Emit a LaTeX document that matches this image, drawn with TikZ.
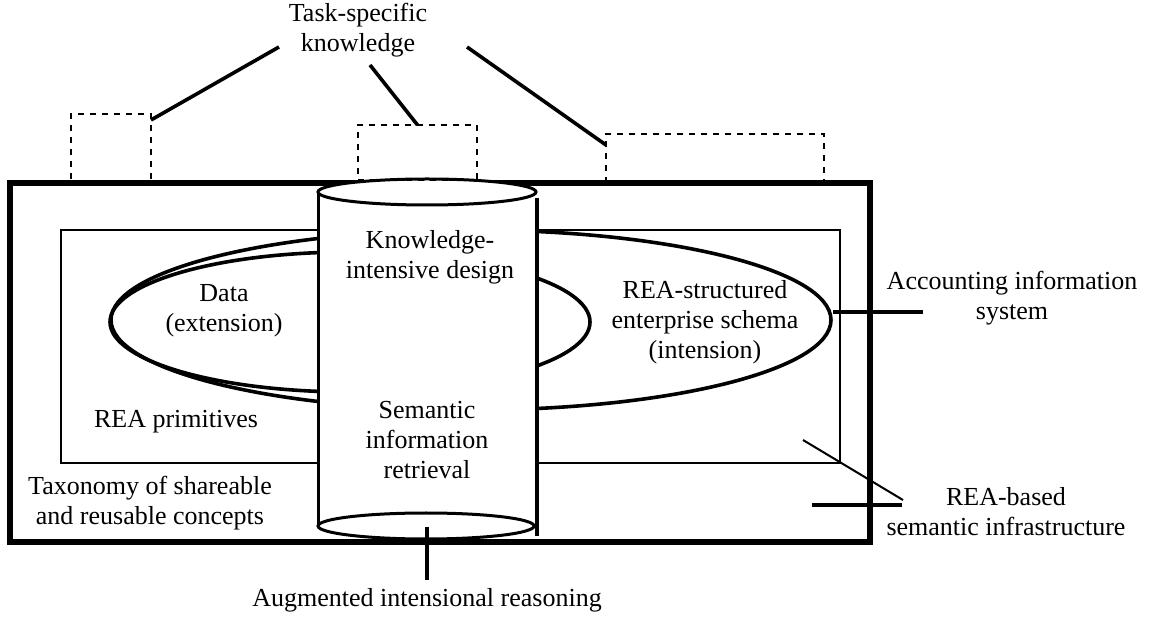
\documentclass[tikz,border=0pt]{standalone}
\usepackage{fontspec}
\setmainfont{Liberation Serif}
\tikzset{
  lbl/.style={font=\fontsize{13}{15}\selectfont, align=center, inner sep=0pt},
  taskbox/.style={draw, dashed, line width=0.7pt, inner sep=0pt, outer sep=0pt},
  lead/.style={line width=1.8pt},
  thinlead/.style={line width=1pt},
  rim/.style={line width=1.8pt},
}
\begin{document}
\begin{tikzpicture}[x=0.5pt,y=-0.5pt]
      \useasboundingbox (0,0) rectangle (1151,619);

      \node[taskbox, minimum width=40pt, minimum height=34.5pt] (lbox) at (111,148.5) {};
      \node[taskbox, minimum width=109pt, minimum height=24.5pt] (rbox) at (715,158.5) {};

      \draw[line width=2.6pt] (10,183) rectangle (870,542);
      \draw[line width=1.3pt] (61,230) rectangle (840,463);

      \draw[rim] (471,320) ellipse [x radius=180pt, y radius=45pt];
      \draw[rim] (350,322) ellipse [x radius=120pt, y radius=35pt];

      % cylinder
      \fill[white] (318,192) rectangle (536,526);
      \draw[line width=1.5pt] (318,192) -- (318,526);
      \draw[line width=2.2pt] (537,198) -- (537,536);
      \draw[line width=1.5pt] (426,526) ellipse [x radius=54pt, y radius=6.5pt];
      \draw[line width=1.5pt, fill=white] (427,192) ellipse [x radius=54.5pt, y radius=6.5pt];

      \node[taskbox, minimum width=59.5pt, minimum height=27.5pt] (mbox) at (417.5,152.5) {};

      \node[lbl] (task) at (358,30) {Task-specific\\knowledge};
      \node[lbl] (data) at (224,311) {Data\\(extension)};
      \node[lbl] (schema) at (705,322) {REA-structured\\enterprise schema\\(intension)};
      \node[lbl] (design) at (430,257) {Knowledge-\\intensive design};
      \node[lbl] (retr) at (427,440) {Semantic\\information\\retrieval};
      \node[lbl] (prim) at (176,422) {REA primitives};
      \node[lbl] (tax) at (150,503) {Taxonomy of shareable\\and reusable concepts};
      \node[lbl] (ais) at (1012,298) {Accounting information\\system};
      \node[lbl] (infra) at (1006,512) {REA-based\\semantic infrastructure};
      \node[lbl] (reason) at (427,600) {Augmented intensional reasoning};

      \coordinate (tl) at (279,47);
      \coordinate (tm) at (370,65);
      \coordinate (tr) at (467,47);
      \draw[lead] (tl) -- ([yshift=-3pt]lbox.north east);
      \draw[lead] (tm) -- (mbox.north);
      \draw[lead] (tr) -- ([yshift=-5.5pt]rbox.north west);

      \coordinate (aisa) at (833,312);
      \coordinate (aisb) at (923,312);
      \draw[lead] (aisa) -- (aisb);

      \coordinate (infa) at (803,440);
      \coordinate (infb) at (903,500);
      \coordinate (infc) at (812,505);
      \coordinate (infd) at (902,505);
      \draw[thinlead] (infa) -- (infb);
      \draw[lead] (infc) -- (infd);

      \coordinate (reasa) at (427,527);
      \coordinate (reasb) at (427,580);
      \draw[lead] (reasa) -- (reasb);
    \end{tikzpicture}
\end{document}
